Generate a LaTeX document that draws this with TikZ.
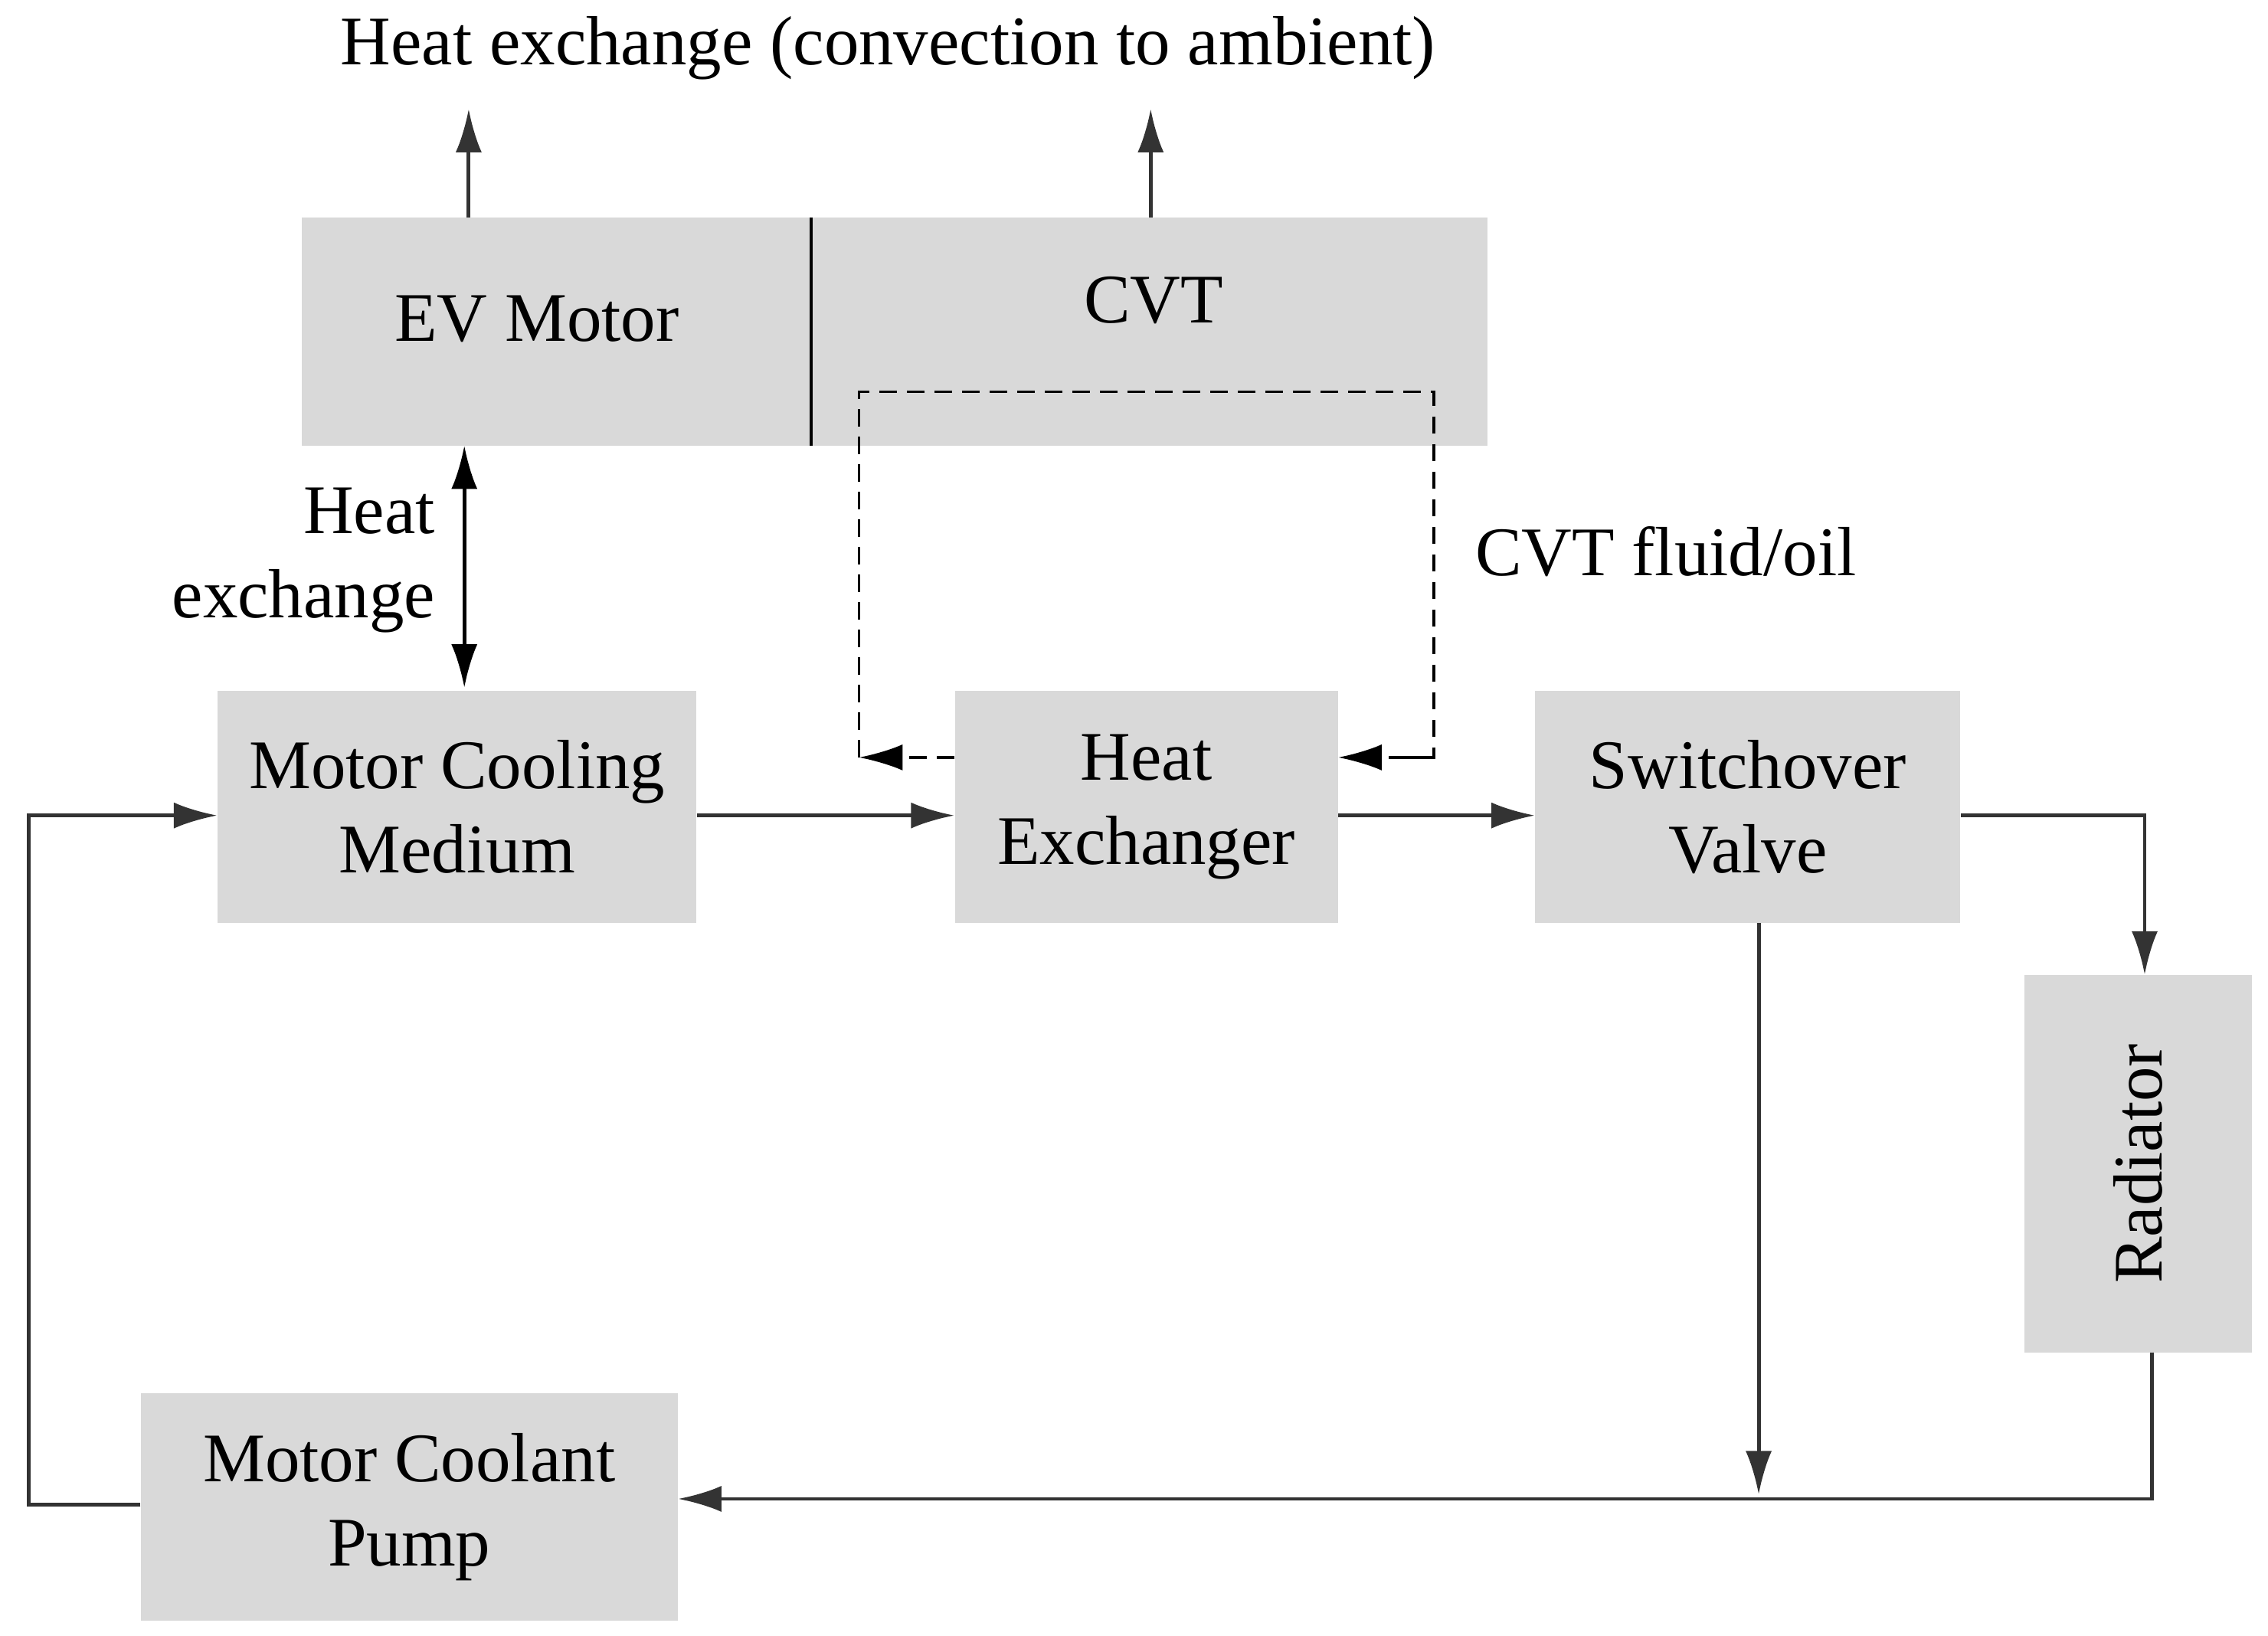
\documentclass[tikz,border=0pt]{standalone}
\usepackage{fontspec}
\setmainfont{Liberation Serif}
\usetikzlibrary{arrows.meta}
\begin{document}
\begin{tikzpicture}[x=1pt,y=-1pt,
  box/.style={fill=boxgray,draw=none,inner sep=0pt,align=center,font=\fontsize{48}{58}\selectfont},
  lbl/.style={inner sep=0pt,font=\fontsize{48}{58}\selectfont},
  ln/.style={line width=2.6pt,draw=black!80,-{Latex[length=30pt,width=18pt]}},
  dsh/.style={line width=2pt,dash pattern=on 12pt off 7pt,-{Latex[length=30pt,width=18pt]}}]
\definecolor{boxgray}{HTML}{D9D9D9}
\useasboundingbox (0,0) rectangle (1563,1127);
\path[fill=boxgray] (208,150) rectangle (1025,307);
\node[lbl] at (370,220) {EV Motor};
\node[lbl] at (795,207) {CVT};
\draw[line width=2.6pt] (559,150) -- (559,307);
\node[lbl] (title) at (612,33) {Heat exchange (convection to ambient)};
\coordinate (t1) at (323,75); \coordinate (t2) at (793,75);
\coordinate (s1) at (323,150); \coordinate (s2) at (793,150);
\draw[ln] (s1) -- (t1);
\draw[ln] (s2) -- (t2);
\node[box,minimum width=330pt,minimum height=160pt] (mcm) at (315,556) {Motor Cooling\\Medium};
\node[box,minimum width=264pt,minimum height=160pt] (he) at (790,556) {Heat\\Exchanger};
\node[box,minimum width=293pt,minimum height=160pt] (sv) at (1204.5,556) {Switchover\\Valve};
\node[box,minimum width=157pt,minimum height=260pt] (rad) at (1473.5,802) {};
\node[lbl,rotate=90] at (1473.5,802) {Radiator};
\node[box,minimum width=370pt,minimum height=157pt] (mcp) at (282,1038.5) {Motor Coolant\\Pump};
\node[lbl,anchor=east,align=right] (hx) at (300,386) {Heat\\exchange};
\coordinate (u1) at (320,307); \coordinate (u2) at (320,474);
\draw[line width=2.6pt,{Latex[length=30pt,width=18pt]}-{Latex[length=30pt,width=18pt]}] (u1) -- (u2);
\coordinate (d1) at (592,522); \coordinate (d2) at (988,522);
\draw[dsh] (he.west |- d1) -- (d1);
\draw[line width=2pt,dash pattern=on 12pt off 7pt] (d1) -- (592,270) -- (988,270) -- (d2) -- (958,522);
\draw[dsh] (d2) -- (he.east |- d2);
\node[lbl] (oil) at (1148,380) {CVT fluid/oil};
\coordinate (m) at (0,562);
\draw[ln] (mcm.east |- m) -- (he.west |- m);
\draw[ln] (he.east |- m) -- (sv.west |- m);
\coordinate (r1) at (1478,562);
\draw[ln] (sv.east |- m) -- (r1) -- (r1 |- rad.north);
\coordinate (v1) at (1212,636); \coordinate (v2) at (1212,1030);
\draw[ln] (v1) -- (v2);
\coordinate (r2) at (1483,932); \coordinate (r3) at (1483,1033);
\draw[ln] (r2) -- (r3) -- (mcp.east |- r3);
\coordinate (p1) at (20,1037);
\draw[ln] (mcp.west |- p1) -- (p1) -- (20,562) -- (mcm.west |- m);
\end{tikzpicture}
\end{document}
